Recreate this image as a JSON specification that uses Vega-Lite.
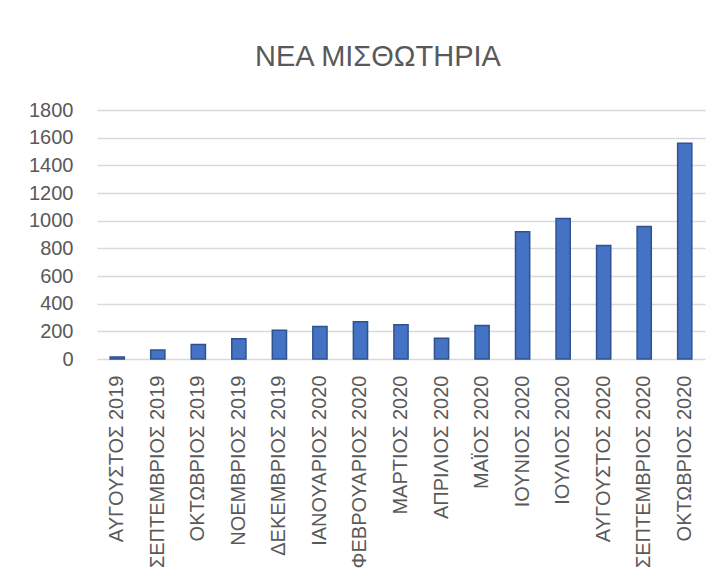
{
  "$schema": "https://vega.github.io/schema/vega-lite/v6.json",
  "autosize": {"type": "none"},
  "width": 608,
  "height": 249,
  "padding": {"left": 97, "top": 110, "right": 20, "bottom": 219},
  "background": "white",
  "title": {
    "text": "ΝΕΑ ΜΙΣΘΩΤΗΡΙΑ",
    "font": "Liberation Sans",
    "fontSize": 29,
    "fontWeight": "normal",
    "color": "#595959",
    "anchor": "middle",
    "frame": "group",
    "dx": -23,
    "offset": 28
  },
  "data": {
    "values": [
      {"month": "ΑΥΓΟΥΣΤΟΣ 2019", "value": 15},
      {"month": "ΣΕΠΤΕΜΒΡΙΟΣ 2019", "value": 65},
      {"month": "ΟΚΤΩΒΡΙΟΣ 2019", "value": 105},
      {"month": "ΝΟΕΜΒΡΙΟΣ 2019", "value": 147},
      {"month": "ΔΕΚΕΜΒΡΙΟΣ 2019", "value": 208},
      {"month": "ΙΑΝΟΥΑΡΙΟΣ 2020", "value": 235},
      {"month": "ΦΕΒΡΟΥΑΡΙΟΣ 2020", "value": 270},
      {"month": "ΜΑΡΤΙΟΣ 2020", "value": 248},
      {"month": "ΑΠΡΙΛΙΟΣ 2020", "value": 150},
      {"month": "ΜΑΪΟΣ 2020", "value": 243},
      {"month": "ΙΟΥΝΙΟΣ 2020", "value": 920},
      {"month": "ΙΟΥΛΙΟΣ 2020", "value": 1015},
      {"month": "ΑΥΓΟΥΣΤΟΣ 2020", "value": 820},
      {"month": "ΣΕΠΤΕΜΒΡΙΟΣ 2020", "value": 958},
      {"month": "ΟΚΤΩΒΡΙΟΣ 2020", "value": 1560}
    ]
  },
  "mark": {"type": "bar", "fill": "#4472C4", "stroke": "#2F528F", "strokeWidth": 1.5},
  "encoding": {
    "x": {
      "field": "month",
      "type": "nominal",
      "sort": null,
      "title": null,
      "scale": {"paddingInner": 0.65, "paddingOuter": 0.325},
      "axis": {
        "labelAngle": -90,
        "labelFont": "Liberation Sans",
        "labelFontSize": 20,
        "labelColor": "#595959",
        "labelPadding": 16,
        "ticks": false,
        "domain": false,
        "grid": false,
        "labelLimit": 0
      }
    },
    "y": {
      "field": "value",
      "type": "quantitative",
      "title": null,
      "scale": {"domain": [0, 1800], "nice": false},
      "axis": {
        "values": [0, 200, 400, 600, 800, 1000, 1200, 1400, 1600, 1800],
        "format": "d",
        "labelFont": "Liberation Sans",
        "labelFontSize": 20,
        "labelColor": "#595959",
        "labelPadding": 24,
        "ticks": false,
        "domain": false,
        "grid": true,
        "gridColor": "#d9d9d9",
        "gridWidth": 1.3
      }
    }
  },
  "config": {
    "view": {"stroke": null}
  }
}
